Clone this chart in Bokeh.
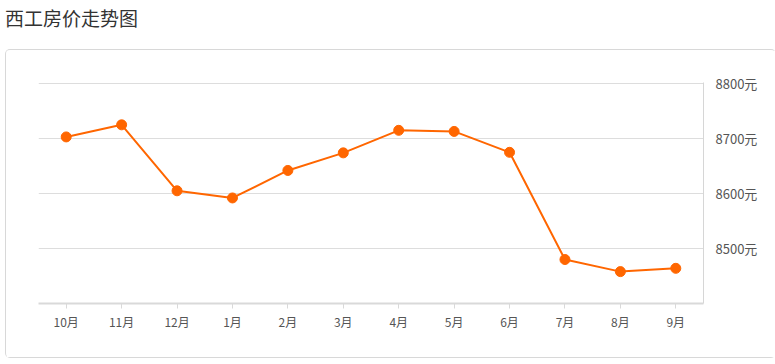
from bokeh.plotting import figure
from bokeh.models import (FactorRange, Range1d, FixedTicker,
                          PrintfTickFormatter, ColumnDataSource, Div)
from bokeh.layouts import column
from bokeh.embed import file_html
from bokeh.resources import INLINE

title_text = "西工房价走势图"
months = ["10月", "11月", "12月", "1月", "2月", "3月", "4月", "5月", "6月", "7月", "8月", "9月"]
prices = [8703, 8725, 8605, 8592, 8642, 8674, 8715, 8713, 8675, 8480, 8458, 8464]
y_ticks = [8500, 8600, 8700, 8800]

FONT = "Noto Sans CJK SC"
ORANGE = "#ff6600"

src = ColumnDataSource(dict(month=months, price=prices))

title = Div(text=f'<div style="font-family:\'{FONT}\';font-size:19px;color:#333333;'
                 f'line-height:36px;margin:0;padding:0;white-space:nowrap">{title_text}</div>',
            width=300, height=50, margin=(0, 0, 0, 5))

p = figure(width=769, height=307, output_backend="svg", toolbar_location=None,
           x_range=FactorRange(*months, range_padding=0),
           y_range=Range1d(8400, 8802),
           y_axis_location="right",
           min_border_left=32, min_border_right=72,
           min_border_top=32, min_border_bottom=54,
           margin=(0, 0, 0, 6),
           styles={"box-shadow": "0 0 0 1px #d8d8d8", "border-radius": "4px"})
p.outline_line_color = None
p.background_fill_color = "white"
p.border_fill_color = "white"

# y axis (right)
ya = p.yaxis[0]
ya.ticker = FixedTicker(ticks=y_ticks)
ya.formatter = PrintfTickFormatter(format="%d元")
ya.axis_line_color = "#d6d6d6"
ya.axis_line_width = 1
ya.major_tick_line_color = None
ya.minor_tick_line_color = None
ya.major_label_standoff = 6
ya.major_label_text_font = FONT
ya.major_label_text_font_size = "13px"
ya.major_label_text_color = "#555555"

# x axis
xa = p.xaxis[0]
xa.axis_line_color = "#d9d9d9"
xa.axis_line_width = 2
xa.major_tick_line_color = "#d9d9d9"
xa.major_tick_in = 0
xa.major_tick_out = 5
xa.minor_tick_line_color = None
xa.major_label_standoff = 4
xa.major_label_text_font = FONT
xa.major_label_text_font_size = "12px"
xa.major_label_text_color = "#555555"

p.xgrid.grid_line_color = None
p.ygrid.ticker = FixedTicker(ticks=y_ticks)
p.ygrid.grid_line_color = "#dddddd"
p.ygrid.grid_line_width = 1

p.line("month", "price", source=src, line_color=ORANGE, line_width=2)
p.scatter("month", "price", source=src, size=10, fill_color=ORANGE, line_color=ORANGE)

layout = column(title, p, spacing=0)
open("out.html", "w").write(file_html(layout, INLINE))
